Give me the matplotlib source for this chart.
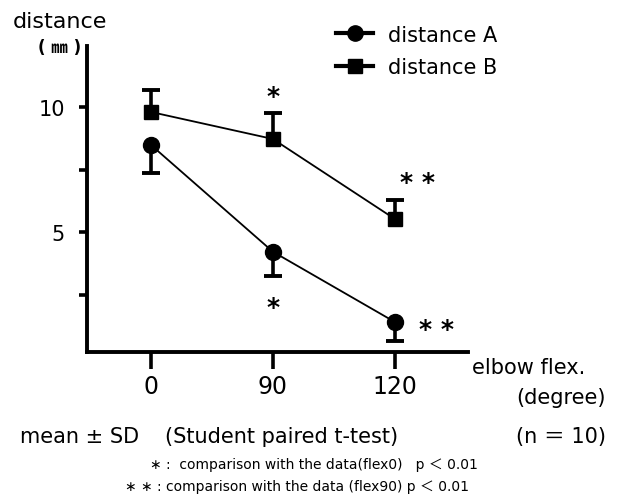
import matplotlib

matplotlib.use("Agg")
import matplotlib.pyplot as plt
from matplotlib.lines import Line2D

plt.rcParams["font.family"] = ["DejaVu Sans", "Noto Sans CJK JP"]

angles = ["0", "90", "120"]
dist_a = [8.48, 4.21, 1.40]
sd_a = [1.12, 0.97, 0.76]
dist_b = [9.80, 8.72, 5.52]
sd_b = [0.90, 1.04, 0.76]

W, H = 624, 502
fig = plt.figure(figsize=(W / 100, H / 100), dpi=100)
ax = fig.add_axes([87 / W, 1 - 353 / H, (468 - 87) / W, (353 - 47) / H])

x = list(range(len(angles)))

# lines + markers
ax.plot(x, dist_a, color="black", lw=1.3, marker="o", ms=11.5, zorder=4)
ax.plot(x, dist_b, color="black", lw=1.3, marker="s", ms=10.5, zorder=4)

# one-sided SD bars: A downward, B upward (cap only at the far end)
lo_a = [m - s for m, s in zip(dist_a, sd_a)]
hi_b = [m + s for m, s in zip(dist_b, sd_b)]
ax.vlines(x, lo_a, dist_a, color="black", lw=2.6, zorder=3)
ax.vlines(x, dist_b, hi_b, color="black", lw=2.6, zorder=3)
ax.plot(x, lo_a, ls="none", marker="_", ms=13, mew=2.8, color="black")
ax.plot(x, hi_b, ls="none", marker="_", ms=13, mew=2.8, color="black")

# significance marks
star = dict(ha="center", va="center", fontsize=18, fontweight="bold",
            textcoords="offset points")
ax.annotate("*", (1, hi_b[1]), xytext=(0, 12), **star)
ax.annotate("*", (1, lo_a[1]), xytext=(0, -22), **star)
ax.annotate("* *", (2, hi_b[2]), xytext=(16, 13), **star)
ax.annotate("* *", (2, dist_a[2]), xytext=(30, -5), **star)

ax.set_xlim(-0.525, 2.6)
ax.set_ylim(0.2, 12.44)
ax.set_xticks(x)
ax.set_xticklabels(angles, fontsize=17)
ax.set_yticks([2.5, 5, 7.5, 10])
ax.set_yticklabels(["", "5", "", "10"], fontsize=15)
ax.tick_params(axis="y", direction="out", length=6, width=2.6, pad=10)
ax.tick_params(axis="x", direction="out", length=12, width=2.6, pad=4)
for s in ("top", "right"):
    ax.spines[s].set_visible(False)
for s in ("left", "bottom"):
    ax.spines[s].set_linewidth(2.8)

handles = [
    Line2D([], [], color="black", lw=3, marker="o", ms=11),
    Line2D([], [], color="black", lw=3, marker="s", ms=10),
]
fig.legend(handles, ["distance A", "distance B"], loc="upper left",
           bbox_to_anchor=(317 / W, 1 - 7 / H), frameon=False,
           fontsize=15, handlelength=1.8, handletextpad=0.7,
           labelspacing=0.6)


def ftext(px, py, s, **kw):
    fig.text(px / W, 1 - py / H, s, va="center", **kw)


ftext(13, 22, "distance", fontsize=16)
ftext(38, 48, "( ㎜ )", fontsize=12, fontweight="bold")
ftext(472, 368, "elbow flex.", fontsize=15)
ftext(606, 398, "(degree)", fontsize=15, ha="right")
ftext(20, 437, "mean ± SD", fontsize=15)
ftext(165, 437, "(Student paired t-test)", fontsize=15)
ftext(606, 437, "(n ＝ 10)", fontsize=15, ha="right")
ftext(150, 465, "∗ :  comparison with the data(flex0)   p ＜ 0.01",
      fontsize=10)
ftext(125, 487, "∗ ∗ : comparison with the data (flex90) p ＜ 0.01",
      fontsize=10)

fig.savefig("out.png", dpi=100, facecolor="white")
